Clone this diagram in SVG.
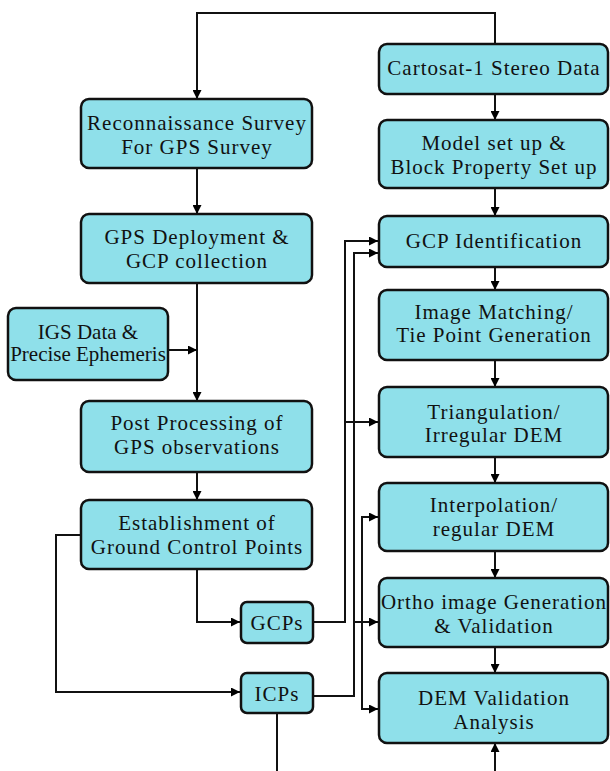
<svg xmlns="http://www.w3.org/2000/svg" width="610" height="771" viewBox="0 0 610 771">
<defs>
<marker id="arr" viewBox="0 0 10 10" refX="10" refY="5" markerWidth="9" markerHeight="9" markerUnits="userSpaceOnUse" orient="auto">
<path d="M0,0 L10,5 L0,10 z" fill="#000"/>
</marker>
</defs>
<style>
.box{fill:#8FE0EA;stroke:#111;stroke-width:2.5}
.t{font-family:"Liberation Serif","Times New Roman",serif;font-size:21px;letter-spacing:1px;fill:#111;text-anchor:middle}
.n{letter-spacing:0}
.c{fill:none;stroke:#111;stroke-width:2}
.a{marker-end:url(#arr)}
</style>
<rect width="610" height="771" fill="#fff"/>
<g id="connectors">
<path class="c a" d="M495,44 V13 H197 V99"/>
<path class="c a" d="M197,168 V214"/>
<path class="c a" d="M197,283 V401"/>
<path class="c a" d="M168,350 H197"/>
<path class="c a" d="M197,472 V500"/>
<path class="c a" d="M197,569 V622 H240"/>
<path class="c a" d="M81,535 H56 V692 H240"/>
<path class="c" d="M277,713 V771"/>
<path class="c a" d="M313,622 H345 V241 H378"/>
<path class="c a" d="M345,422 H378"/>
<path class="c a" d="M313,696 H354 V253 H378"/>
<path class="c a" d="M354,622 H378"/>
<path class="c a" d="M362,620 V517 H378"/>
<path class="c a" d="M362,615 V709 H378"/>
<path class="c a" d="M495,94 V120"/>
<path class="c a" d="M495,188 V216"/>
<path class="c a" d="M495,267 V290"/>
<path class="c a" d="M495,360 V387"/>
<path class="c a" d="M495,457 V483"/>
<path class="c a" d="M495,551 V578"/>
<path class="c a" d="M495,647 V673"/>
<path class="c a" d="M495,771 V743"/>
</g>
<g id="cartosat"><rect class="box" x="379" y="44" width="229" height="50" rx="8"/><text class="t" x="494" y="75">Cartosat-1 Stereo Data</text></g>
<g id="model"><rect class="box" x="379" y="120" width="229" height="68" rx="8"/><text class="t" x="494" y="150">Model set up &amp;</text><text class="t" x="494" y="174">Block Property Set up</text></g>
<g id="gcpid"><rect class="box" x="379" y="216" width="229" height="51" rx="8"/><text class="t" x="494" y="248">GCP Identification</text></g>
<g id="matching"><rect class="box" x="379" y="290" width="229" height="70" rx="8"/><text class="t" x="494" y="319">Image Matching/</text><text class="t" x="494" y="342">Tie Point Generation</text></g>
<g id="triang"><rect class="box" x="379" y="387" width="229" height="70" rx="8"/><text class="t" x="494" y="419">Triangulation/</text><text class="t" x="494" y="442">Irregular DEM</text></g>
<g id="interp"><rect class="box" x="379" y="483" width="229" height="68" rx="8"/><text class="t" x="494" y="512">Interpolation/</text><text class="t" x="494" y="536">regular DEM</text></g>
<g id="ortho"><rect class="box" x="379" y="578" width="229" height="69" rx="8"/><text class="t" x="494" y="609">Ortho image Generation</text><text class="t" x="494" y="633">&amp; Validation</text></g>
<g id="demval"><rect class="box" x="379" y="673" width="229" height="70" rx="8"/><text class="t" x="494" y="705">DEM Validation</text><text class="t" x="494" y="729">Analysis</text></g>
<g id="recon"><rect class="box" x="81" y="99" width="231" height="69" rx="8"/><text class="t" x="197" y="130">Reconnaissance Survey</text><text class="t" x="197" y="154">For GPS Survey</text></g>
<g id="gpsdep"><rect class="box" x="81" y="214" width="231" height="69" rx="8"/><text class="t" x="197" y="244">GPS Deployment &amp;</text><text class="t" x="197" y="268">GCP collection</text></g>
<g id="igs"><rect class="box" x="8" y="308" width="160" height="72" rx="8"/><text class="t n" x="88" y="339">IGS Data &amp;</text><text class="t n" x="88" y="361">Precise Ephemeris</text></g>
<g id="post"><rect class="box" x="81" y="401" width="231" height="71" rx="8"/><text class="t" x="197" y="430">Post Processing of</text><text class="t" x="197" y="454">GPS observations</text></g>
<g id="establish"><rect class="box" x="81" y="500" width="231" height="69" rx="8"/><text class="t" x="197" y="530">Establishment of</text><text class="t" x="197" y="554">Ground Control Points</text></g>
<g id="gcps"><rect class="box" x="241" y="602" width="72" height="41" rx="6"/><text class="t" x="277" y="630">GCPs</text></g>
<g id="icps"><rect class="box" x="241" y="673" width="72" height="40" rx="6"/><text class="t" x="277" y="701">ICPs</text></g>
</svg>
